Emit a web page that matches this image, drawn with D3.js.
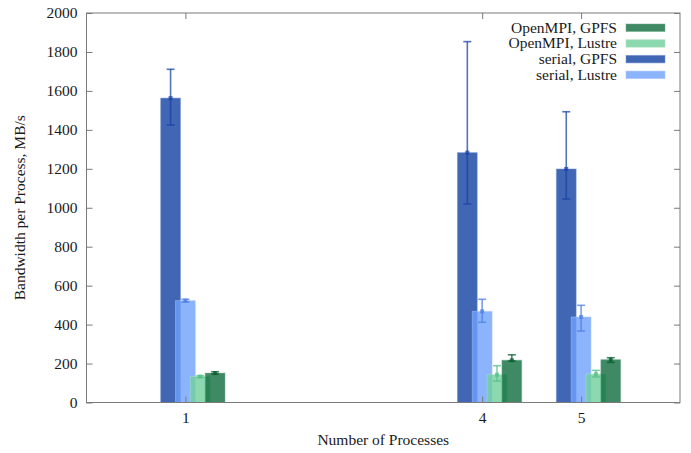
<!DOCTYPE html>
<html>
<head>
<meta charset="utf-8">
<script src="https://cdn.jsdelivr.net/npm/d3@7"></script>
<style>
  html, body { margin: 0; padding: 0; background: #fff; }
  svg text { font-family: "Liberation Serif", "Times New Roman", serif; fill: #1a1a1a; }
</style>
</head>
<body>
<svg id="chart" width="691" height="453"></svg>
<script>
// Number of processes on the x axis
const processes = [1, 4, 5];

// Mean bandwidth per process (MB/s) and error-bar bounds for each series
const serialGPFS      = [1563, 1283, 1199];
const serialGPFSLo    = [1425, 1019, 1045];
const serialGPFSHi    = [1711, 1853, 1493];

const serialLustre    = [523, 468, 439];
const serialLustreLo  = [516, 412, 367];
const serialLustreHi  = [530, 530, 499];

const mpiLustre       = [133, 143, 146];
const mpiLustreLo     = [129, 110, 131];
const mpiLustreHi     = [138, 189, 165];

const mpiGPFS         = [151, 217, 220];
const mpiGPFSLo       = [146, 213, 206];
const mpiGPFSHi       = [158, 245, 230];

const yTicks = [0, 200, 400, 600, 800, 1000, 1200, 1400, 1600, 1800, 2000];

// Draw order (back to front) with per-series styling
const series = [
  { name: "serial, GPFS",    v: serialGPFS,   lo: serialGPFSLo,   hi: serialGPFSHi,   off: -0.15, fill: "#1040a1", err: "#1a43a6", edge: "#6f8fd0" },
  { name: "serial, Lustre",  v: serialLustre, lo: serialLustreLo, hi: serialLustreHi, off: 0.0,   fill: "#6fa1fb", err: "#4f7fe0", edge: "#a9c6fb" },
  { name: "OpenMPI, Lustre", v: mpiLustre,    lo: mpiLustreLo,    hi: mpiLustreHi,    off: 0.15,  fill: "#6fd09c", err: "#55c08a", edge: "#a9e4c4" },
  { name: "OpenMPI, GPFS",   v: mpiGPFS,      lo: mpiGPFSLo,      hi: mpiGPFSHi,      off: 0.30,  fill: "#0f6d3d", err: "#0b5e31", edge: "#6fa88a" }
];
const legendOrder = ["OpenMPI, GPFS", "OpenMPI, Lustre", "serial, GPFS", "serial, Lustre"];

const svg = d3.select("#chart");
const plotL = 86.5, plotR = 680, plotT = 13, plotB = 402.5;
const x = d3.scaleLinear().domain([0, 6]).range([plotL, plotR]);
const y = d3.scaleLinear().domain([0, 2000]).range([plotB, plotT]);
const barW = 0.2;
const frameColor = "#7a7a7a";

// Bars
series.forEach(s => {
  const g = svg.append("g");
  g.selectAll("rect").data(processes).join("rect")
    .attr("x", (d) => x(d + s.off - barW / 2))
    .attr("width", x(barW) - x(0))
    .attr("y", (d, i) => y(s.v[i]))
    .attr("height", (d, i) => y(0) - y(s.v[i]))
    .attr("fill", s.fill)
    .attr("fill-opacity", 0.8)
    .attr("stroke", s.edge)
    .attr("stroke-opacity", 0.5)
    .attr("stroke-width", 1);
});

// Error bars
series.forEach(s => {
  const g = svg.append("g").attr("stroke", s.err).attr("stroke-opacity", 0.75).attr("stroke-width", 1.6).attr("fill", "none");
  processes.forEach((d, i) => {
    const cx = x(d + s.off);
    g.append("line").attr("x1", cx).attr("x2", cx).attr("y1", y(s.lo[i])).attr("y2", y(s.hi[i]));
    g.append("line").attr("x1", cx - 4).attr("x2", cx + 4).attr("y1", y(s.lo[i])).attr("y2", y(s.lo[i]));
    g.append("line").attr("x1", cx - 4).attr("x2", cx + 4).attr("y1", y(s.hi[i])).attr("y2", y(s.hi[i]));
    g.append("rect").attr("x", cx - 2).attr("y", y(s.v[i]) - 2).attr("width", 4).attr("height", 4)
      .attr("fill", s.err).attr("fill-opacity", 0.75).attr("stroke", "none");
  });
});

// Axes with inward ticks on all four sides
function styleAxis(g) {
  g.select(".domain").remove();
  g.selectAll(".tick line").attr("stroke", frameColor).attr("stroke-width", 1);
  g.selectAll(".tick text").style("font-size", "15.5px").attr("fill", "#1a1a1a");
}
svg.append("g").attr("transform", `translate(${plotL},0)`)
  .call(d3.axisLeft(y).tickValues(yTicks).tickSizeInner(-6).tickSizeOuter(0).tickPadding(9).tickFormat(d3.format("d")))
  .call(styleAxis);
svg.append("g").attr("transform", `translate(${plotR},0)`)
  .call(d3.axisRight(y).tickValues(yTicks).tickSizeInner(-6).tickSizeOuter(0).tickFormat(""))
  .call(styleAxis);
svg.append("g").attr("transform", `translate(0,${plotB})`)
  .call(d3.axisBottom(x).tickValues(processes).tickSizeInner(-6).tickSizeOuter(0).tickPadding(9).tickFormat(d3.format("d")))
  .call(styleAxis);
svg.append("g").attr("transform", `translate(0,${plotT})`)
  .call(d3.axisTop(x).tickValues(processes).tickSizeInner(-6).tickSizeOuter(0).tickFormat(""))
  .call(styleAxis);

// Frame
svg.append("rect").attr("x", plotL).attr("y", plotT).attr("width", plotR - plotL).attr("height", plotB - plotT)
  .attr("fill", "none").attr("stroke", frameColor).attr("stroke-width", 1);

// Axis titles
svg.append("text").attr("x", (plotL + plotR) / 2).attr("y", 445).attr("text-anchor", "middle")
  .style("font-size", "15.5px").text("Number of Processes");
svg.append("text").attr("transform", `translate(25,${(plotT + plotB) / 2}) rotate(-90)`).attr("text-anchor", "middle")
  .style("font-size", "15.5px").text("Bandwidth per Process, MB/s");

// Legend
const legend = svg.append("g");
legendOrder.forEach((name, i) => {
  const s = series.find(e => e.name === name);
  const cy = 27.5 + i * 15.7;
  legend.append("text").attr("x", 617).attr("y", cy + 5).attr("text-anchor", "end")
    .style("font-size", "15.5px").text(name);
  legend.append("rect").attr("x", 626).attr("y", cy - 3.5).attr("width", 39).attr("height", 7.5)
    .attr("fill", s.fill).attr("fill-opacity", 0.8).attr("stroke", s.edge).attr("stroke-opacity", 0.5);
});
</script>
</body>
</html>
